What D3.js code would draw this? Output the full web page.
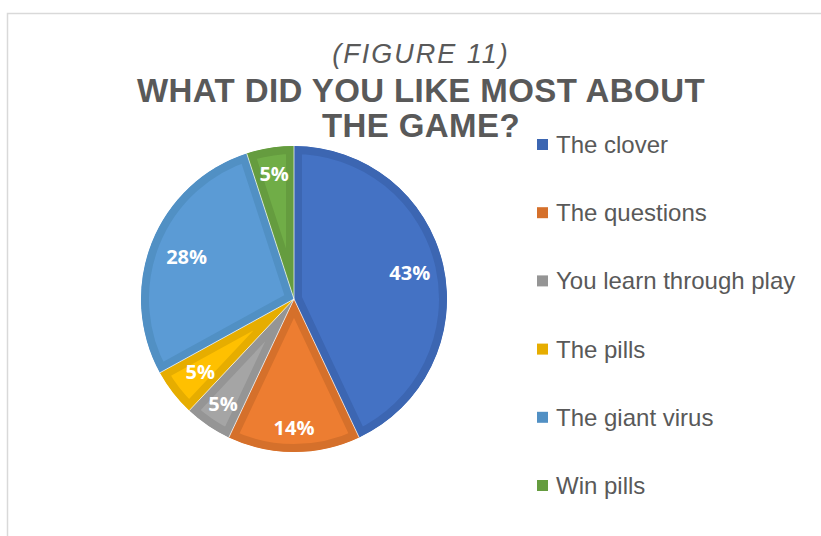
<!DOCTYPE html>
<html>
<head>
<meta charset="utf-8">
<script src="https://cdn.jsdelivr.net/npm/d3@7"></script>
<style>
  html, body { margin: 0; padding: 0; background: #fff; }
  svg { display: block; }
</style>
</head>
<body>
<svg id="chart" width="821" height="536"></svg>
<script>
// Survey answers and their shares (percent)
const categories = ["The clover", "The questions", "You learn through play", "The pills", "The giant virus", "Win pills"];
const shares = [43, 14, 5, 5, 28, 5];
const fillColors = ["#4472C4", "#ED7D31", "#A5A5A5", "#FFC000", "#5B9BD5", "#70AD47"];
const edgeColors = ["#3C66B2", "#D5702B", "#959595", "#E6AD00", "#5190C4", "#659C3F"];
const titleLines = ["WHAT DID YOU LIKE MOST ABOUT", "THE GAME?"];
const subtitle = "(FIGURE 11)";

// Per-slice distance of the percentage label from the centre (fraction of radius)
const labelRadius = [0.775, 0.845, 0.825, 0.775, 0.755, 0.83];

const svg = d3.select("#chart");
const textColor = "#595959";
const cx = 294, cy = 299, R = 153;

// Chart frame
svg.append("rect")
  .attr("x", 7.5).attr("y", 13.5)
  .attr("width", 900).attr("height", 600)
  .attr("fill", "none")
  .attr("stroke", "#D9D9D9")
  .attr("stroke-width", 1.5);

// Titles
svg.append("text")
  .attr("x", 421).attr("y", 63)
  .attr("text-anchor", "middle")
  .attr("font-family", "'Liberation Sans', Arial, sans-serif")
  .attr("font-style", "italic")
  .attr("font-size", 27)
  .attr("letter-spacing", 2)
  .attr("fill", textColor)
  .text(subtitle);

svg.selectAll("text.title")
  .data(titleLines)
  .join("text")
  .attr("class", "title")
  .attr("x", 421)
  .attr("y", (d, i) => 102 + i * 35)
  .attr("text-anchor", "middle")
  .attr("font-family", "'Liberation Sans', Arial, sans-serif")
  .attr("font-weight", "bold")
  .attr("font-size", 33)
  .attr("letter-spacing", 0.4)
  .attr("fill", textColor)
  .text(d => d);

// Pie
const pie = d3.pie().sort(null).value(d => d);
const arcs = pie(shares);
const arc = d3.arc().innerRadius(0).outerRadius(R);

const g = svg.append("g").attr("transform", `translate(${cx},${cy})`);
const defs = svg.append("defs");

arcs.forEach((a, i) => {
  defs.append("clipPath").attr("id", "slice-clip-" + i)
    .append("path").attr("d", arc(a));
});

// Each slice: light fill with a darker inner edge band
g.selectAll("path.slice")
  .data(arcs)
  .join("path")
  .attr("class", "slice")
  .attr("d", arc)
  .attr("fill", (d, i) => fillColors[i])
  .attr("stroke", (d, i) => edgeColors[i])
  .attr("stroke-width", 16)
  .attr("stroke-linejoin", "miter")
  .attr("clip-path", (d, i) => `url(#slice-clip-${i})`);

// Thin white separators between slices
g.selectAll("line.sep")
  .data(arcs)
  .join("line")
  .attr("class", "sep")
  .attr("x1", 0).attr("y1", 0)
  .attr("x2", d => R * Math.sin(d.startAngle))
  .attr("y2", d => -R * Math.cos(d.startAngle))
  .attr("stroke", "#ffffff")
  .attr("stroke-opacity", 0.7)
  .attr("stroke-width", 1);

// Percentage labels
g.selectAll("text.pct")
  .data(arcs)
  .join("text")
  .attr("class", "pct")
  .attr("transform", (d, i) => {
    const m = (d.startAngle + d.endAngle) / 2;
    const r = R * labelRadius[i];
    return `translate(${r * Math.sin(m)},${-r * Math.cos(m)})`;
  })
  .attr("text-anchor", "middle")
  .attr("dy", "0.36em")
  .attr("font-family", "'Open Sans', sans-serif")
  .attr("font-weight", "bold")
  .attr("font-size", 20)
  .attr("fill", "#ffffff")
  .text(d => d.data + "%");

// Legend
const legend = svg.append("g");
const items = legend.selectAll("g.item")
  .data(categories)
  .join("g")
  .attr("class", "item")
  .attr("transform", (d, i) => `translate(537,${139 + i * 68.2})`);

items.append("rect")
  .attr("width", 11).attr("height", 11)
  .attr("fill", (d, i) => edgeColors[i]);

items.append("text")
  .attr("x", 19).attr("y", 14)
  .attr("font-family", "'Liberation Sans', Arial, sans-serif")
  .attr("font-size", 24)
  .attr("fill", textColor)
  .text(d => d);
</script>
</body>
</html>
